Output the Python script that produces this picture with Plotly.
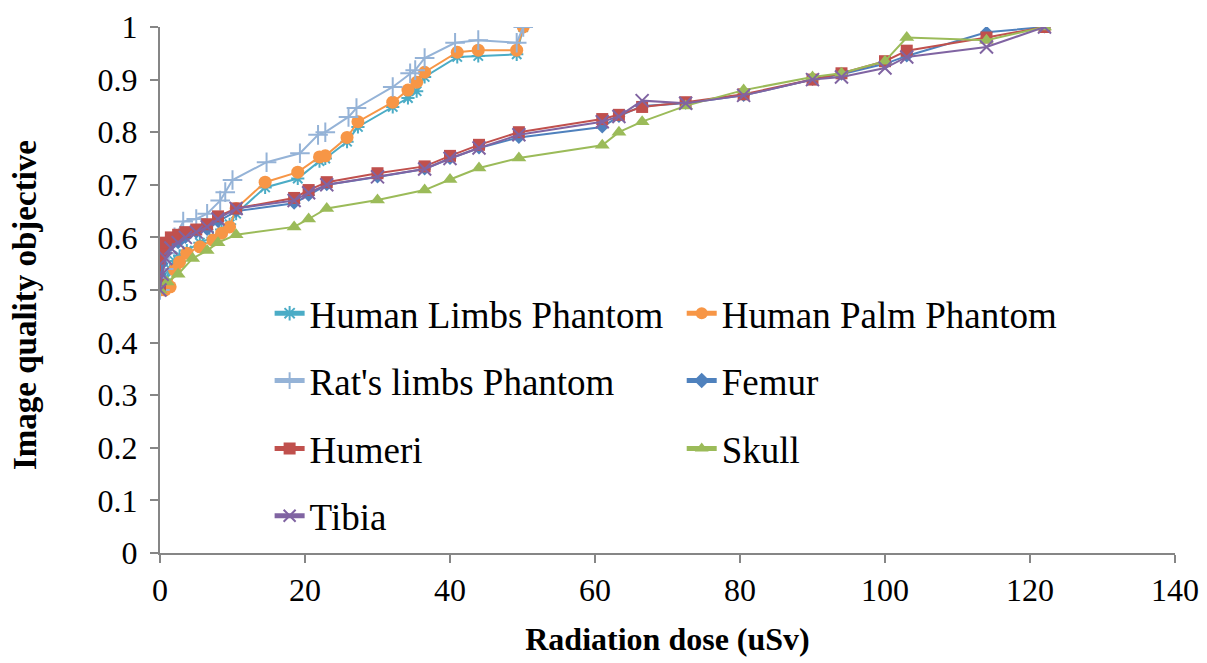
import plotly.graph_objects as go

# ---- data ----
limbs_x = [0, 0.7, 1.4, 2, 2.7, 3.7, 5.5, 7.3, 8.5, 9.6, 10.5, 14.5, 19, 22, 22.8, 25.8, 27.3, 32.1, 34.2, 35.4, 36.5, 41, 43.9, 49.2, 50.1]
limbs_y = [0.5, 0.52, 0.54, 0.555, 0.565, 0.575, 0.59, 0.60, 0.615, 0.625, 0.645, 0.695, 0.712, 0.745, 0.75, 0.782, 0.81, 0.848, 0.865, 0.878, 0.905, 0.943, 0.945, 0.948, 1.0]

palm_x = [0, 0.7, 1.4, 2, 2.7, 3.7, 5.5, 7.3, 8.5, 9.6, 10.5, 14.5, 19, 22, 22.8, 25.8, 27.3, 32.1, 34.2, 35.4, 36.5, 41, 43.9, 49.2, 50.1]
palm_y = [0.5, 0.5, 0.506, 0.538, 0.553, 0.57, 0.582, 0.595, 0.608, 0.62, 0.655, 0.705, 0.724, 0.753, 0.755, 0.79, 0.82, 0.857, 0.88, 0.895, 0.914, 0.952, 0.956, 0.956, 1.0]

rats_x = [0, 0.5, 1.2, 2, 3.2, 5, 6.5, 8.3, 9, 10, 14.7, 19.3, 21.8, 22.8, 26, 27.1, 32.1, 34.5, 35.2, 36.5, 40.7, 43.9, 49.2, 50.1]
rats_y = [0.5, 0.54, 0.57, 0.60, 0.63, 0.635, 0.645, 0.67, 0.686, 0.709, 0.743, 0.76, 0.795, 0.80, 0.829, 0.846, 0.886, 0.912, 0.918, 0.941, 0.97, 0.975, 0.97, 1.0]

femur_x = [0, 0.3, 0.8, 1.5, 2.5, 3.5, 5, 6.5, 8, 10.5, 18.5, 20.5, 23, 30, 36.5, 40, 44, 49.5, 61, 63.3, 66.5, 72.5, 80.5, 90, 94, 100, 103, 114, 122]
femur_y = [0.53, 0.55, 0.57, 0.585, 0.59, 0.60, 0.61, 0.615, 0.63, 0.65, 0.665, 0.68, 0.70, 0.715, 0.73, 0.75, 0.77, 0.79, 0.81, 0.83, 0.85, 0.855, 0.87, 0.90, 0.91, 0.93, 0.945, 0.99, 1.0]

humeri_x = [0, 0, 0.3, 0.8, 1.5, 2.5, 3.5, 5, 6.5, 8, 10.5, 18.5, 20.5, 23, 30, 36.5, 40, 44, 49.5, 61, 63.3, 66.5, 72.5, 80.5, 90, 94, 100, 103, 114, 122]
humeri_y = [0.51, 0.56, 0.575, 0.59, 0.60, 0.605, 0.61, 0.615, 0.625, 0.64, 0.655, 0.675, 0.69, 0.705, 0.722, 0.735, 0.755, 0.776, 0.80, 0.825, 0.833, 0.848, 0.857, 0.872, 0.90, 0.912, 0.935, 0.955, 0.98, 1.0]

skull_x = [0, 1, 2.5, 4.5, 6.5, 8, 10.5, 18.5, 20.5, 23, 30, 36.5, 40, 44, 49.5, 61, 63.3, 66.5, 72.5, 80.5, 90, 94, 100, 103, 114, 122]
skull_y = [0.50, 0.515, 0.53, 0.56, 0.575, 0.59, 0.605, 0.62, 0.635, 0.655, 0.671, 0.69, 0.71, 0.732, 0.751, 0.775, 0.80, 0.82, 0.85, 0.88, 0.905, 0.912, 0.935, 0.98, 0.975, 1.0]

tibia_x = [0, 0.3, 0.8, 1.5, 2.5, 3.5, 5, 6.5, 8, 10.5, 18.5, 20.5, 23, 30, 36.5, 40, 44, 49.5, 61, 63.3, 66.5, 72.5, 80.5, 90, 94, 100, 103, 114, 122]
tibia_y = [0.50, 0.53, 0.56, 0.58, 0.59, 0.60, 0.61, 0.62, 0.635, 0.655, 0.67, 0.685, 0.70, 0.715, 0.73, 0.75, 0.77, 0.795, 0.82, 0.83, 0.86, 0.855, 0.87, 0.90, 0.905, 0.922, 0.943, 0.962, 1.0]

x_ticks = [0, 20, 40, 60, 80, 100, 120, 140]
y_ticks = [0, 0.1, 0.2, 0.3, 0.4, 0.5, 0.6, 0.7, 0.8, 0.9, 1]
y_tick_labels = ["0", "0.1", "0.2", "0.3", "0.4", "0.5", "0.6", "0.7", "0.8", "0.9", "1"]

series = [
    ("Human Limbs Phantom", limbs_x, limbs_y, "#4BACC6", "asterisk-open", 11),
    ("Human Palm Phantom", palm_x, palm_y, "#F79646", "circle", 13),
    ("Rat's limbs Phantom", rats_x, rats_y, "#95B3D7", "cross-thin-open", 14),
    ("Femur", femur_x, femur_y, "#4F81BD", "diamond", 10),
    ("Humeri", humeri_x, humeri_y, "#C0504D", "square", 12),
    ("Skull", skull_x, skull_y, "#9BBB59", "triangle-up", 13),
    ("Tibia", tibia_x, tibia_y, "#8064A2", "x-thin-open", 13),
]

FONT = "Liberation Serif"

# legend placement (paper coords): two columns, four rows
leg_pos = [(0.108, 0.455), (0.514, 0.455), (0.108, 0.327), (0.514, 0.327),
           (0.108, 0.198), (0.514, 0.198), (0.108, 0.070)]

fig = go.Figure()
layout_legends = {}
for i, (name, xs, ys, col, sym, sz) in enumerate(series):
    lname = "legend" if i == 0 else f"legend{i+1}"
    fig.add_trace(go.Scatter(
        x=xs, y=ys, mode="lines+markers", name=name,
        line=dict(color=col, width=2),
        marker=dict(symbol=sym, size=sz, color=col,
                    line=dict(color=col, width=2 if "open" in sym else 0)),
        legend=lname,
    ))
    lx, ly = leg_pos[i]
    layout_legends[lname] = dict(
        x=lx, y=ly, xanchor="left", yanchor="middle",
        bgcolor="rgba(0,0,0,0)",
        font=dict(family=FONT, size=37),
        itemsizing="constant",
    )

fig.add_annotation(
    text="<b>Image quality objective</b>", textangle=-90,
    xref="paper", yref="paper", x=-0.133, y=0.4715,
    xanchor="center", yanchor="middle", showarrow=False,
    font=dict(family=FONT, size=33, color="#000000"),
)

fig.update_layout(
    width=1207, height=663,
    margin=dict(l=152, r=40, t=19, b=118),
    paper_bgcolor="white", plot_bgcolor="white",
    font=dict(family=FONT, size=32, color="#000000"),
    showlegend=True,
    **layout_legends,
    xaxis=dict(
        range=[0, 140], tickvals=x_ticks, showgrid=False, zeroline=False,
        showline=True, linecolor="#868686", linewidth=2,
        ticks="outside", ticklen=8, tickcolor="#868686", tickwidth=2,
        tickfont=dict(family=FONT, size=32),
        automargin=False,
        title=dict(text="<b>Radiation dose (uSv)</b>", font=dict(family=FONT, size=32), standoff=20),
    ),
    yaxis=dict(
        range=[0, 1], tickvals=y_ticks, ticktext=y_tick_labels, showgrid=False, zeroline=False,
        showline=True, linecolor="#868686", linewidth=2,
        ticks="outside", ticklen=8, tickcolor="#868686", tickwidth=2,
        tickfont=dict(family=FONT, size=32),
        ticklabelstandoff=6,
        automargin=False,
    ),
)

fig.write_html("out.html")
